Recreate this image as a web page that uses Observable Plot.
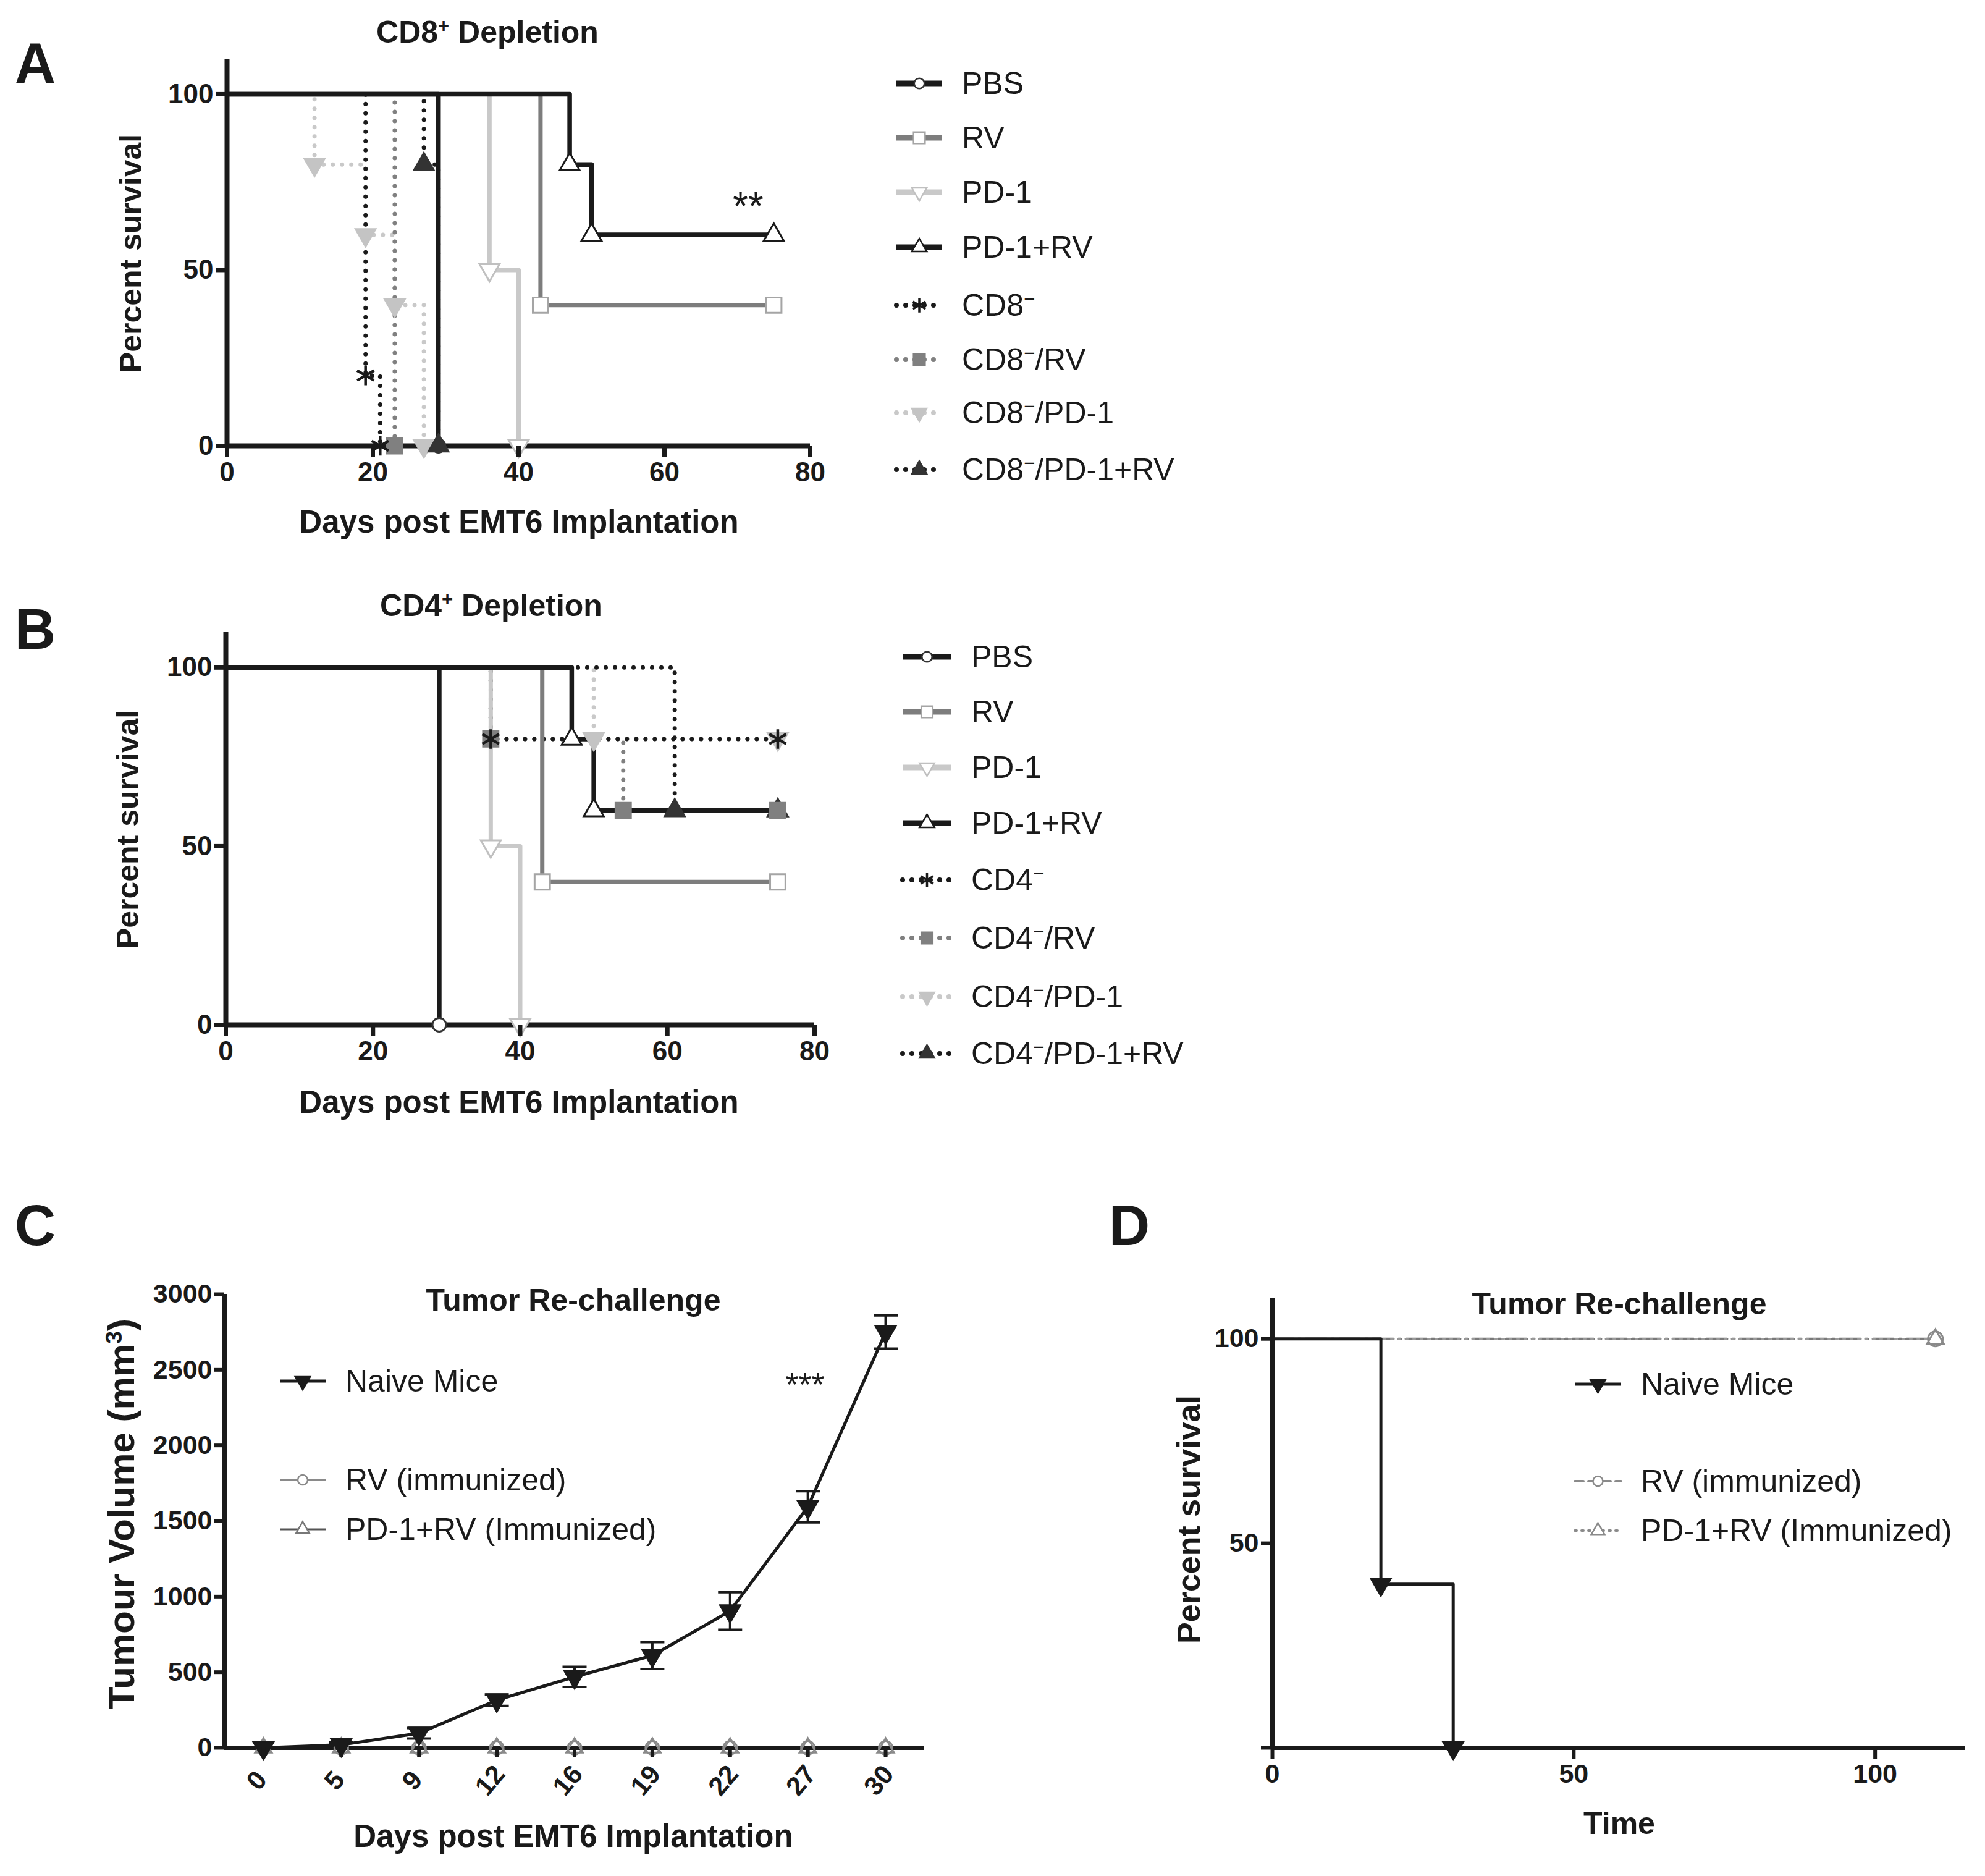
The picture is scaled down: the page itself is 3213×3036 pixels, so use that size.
<!DOCTYPE html>
<html><head><meta charset="utf-8">
<script src="https://cdn.jsdelivr.net/npm/d3@7"></script>
<script src="https://cdn.jsdelivr.net/npm/@observablehq/plot@0.6"></script>
<style>
body{margin:0;background:#fff;}
#page{position:relative;width:3213px;height:3036px;background:#fff;font-family:'Liberation Sans',Arial,sans-serif;color:#1a1a1a;overflow:hidden}
.abs{position:absolute;white-space:nowrap;transform:translate(-50%,-50%);line-height:1}
.leg{position:absolute;display:flex;align-items:center;transform:translateY(-50%);font-size:50px;white-space:nowrap;line-height:1}
.plot{position:absolute}
sup{font-size:62%;vertical-align:0.55em;line-height:0}
</style></head><body><div id="page"></div>
<script>
// ---------- DATA ----------
// Panel A : CD8+ depletion (Kaplan-Meier steps)
const groupsA = ["PBS","RV","PD-1","PD-1+RV","CD8-","CD8-/RV","CD8-/PD-1","CD8-/PD-1+RV"];
const daysA = [[0,29],[0,43,75],[0,36,40],[0,47,50,75],[0,19,21],[0,23],[0,12,19,23,27],[0,27,29]];
const survA = [[100,0],[100,40,40],[100,50,0],[100,80,60,60],[100,20,0],[100,0],[100,80,60,40,0],[100,80,0]];
// Panel B : CD4+ depletion
const groupsB = ["PBS","RV","PD-1","PD-1+RV","CD4-","CD4-/RV","CD4-/PD-1","CD4-/PD-1+RV"];
const daysB = [[0,29],[0,43,75],[0,36,40],[0,47,50,75],[0,36,75],[0,36,54,75],[0,50,75],[0,61,75]];
const survB = [[100,0],[100,40,40],[100,50,0],[100,80,60,60],[100,80,80],[100,80,60,60],[100,80,80],[100,60,60]];
// Panel C : tumour re-challenge volume
const daysC = ["0","5","9","12","16","19","22","27","30"];
const naiveMean = [0,20,96,315,469,610,905,1594,2750];
const naiveErr = [0,15,35,38,66,89,124,103,110];
const rvImmun = [0,0,0,0,0,0,0,0,0];
const pdrvImmun = [0,0,0,0,0,0,0,0,0];
// Panel D : re-challenge survival
const timeNaive = [0,18,30];
const survNaive = [100,40,0];
const timeImmun = [0,110];
const survRvImmun = [100,100];
const survPdrvImmun = [100,100];

// tick values
const ticksKMx = [0,20,40,60,80];
const ticksKMy = [0,50,100];
const ticksCy = [0,500,1000,1500,2000,2500,3000];
const ticksDx = [0,50,100];
const ticksDy = [0,50,100];

// ---------- STYLES ----------
const BLK="#1a1a1a", DG="#7d7d7d", LG="#c9c9c9";
const FONT="'Liberation Sans',Arial,sans-serif";
const stylesKM = [
  {stroke:BLK, dash:false, symbol:"circle", fill:"white", ms:"#333", rotate:0, r:11, w:7.5},
  {stroke:DG, dash:false, symbol:"square", fill:"white", ms:"#a5a5a5", rotate:0, r:14, w:7},
  {stroke:LG, dash:false, symbol:"triangle", fill:"white", ms:"#c0c0c0", rotate:180, r:12, w:7},
  {stroke:BLK, dash:false, symbol:"triangle", fill:"white", ms:BLK, rotate:0, r:12, w:7.5},
  {stroke:BLK, dash:true, symbol:"asterisk", fill:"none", ms:BLK, rotate:0, r:15, w:7},
  {stroke:"#808080", dash:true, symbol:"square", fill:"#808080", ms:"#808080", rotate:0, r:14, w:7},
  {stroke:LG, dash:true, symbol:"triangle", fill:"#c4c4c4", ms:"#c4c4c4", rotate:180, r:12, w:7},
  {stroke:BLK, dash:true, symbol:"triangle", fill:"#333", ms:"#333", rotate:0, r:12, w:7}
];
const drawOrder = [6,5,7,4,2,1,3,0];
const markerOrder = [2,1,3,0,6,7,5,4];
const DOTS = "0 15";

const page = document.getElementById("page");
function place(el, left, top){ el.classList.add("plot"); el.style.left=left+"px"; el.style.top=top+"px"; page.appendChild(el); }
function txt(x,y,html,css,rot){
  const d=document.createElement("div"); d.className="abs"; d.innerHTML=html;
  d.style.left=x+"px"; d.style.top=y+"px"; d.style.cssText+=css;
  if(rot) d.style.transform=`translate(-50%,-50%) rotate(${rot}deg)`;
  page.appendChild(d); return d;
}
const symMap = {circle:d3.symbolCircle, square:d3.symbolSquare, triangle:d3.symbolTriangle, asterisk:d3.symbolAsterisk};
function swatch(w, st, lw, dasharray, r){
  const size = Math.PI*r*r;
  const path = d3.symbol(symMap[st.symbol], size)();
  const sw = st.symbol==="asterisk"?3.5:2.5;
  return `<svg width="${w}" height="44" style="flex:none;overflow:visible"><line x1="2" x2="${w-32}" y1="22" y2="22" stroke="${st.stroke}" stroke-width="${lw}" ${dasharray?`stroke-dasharray="${dasharray}" stroke-linecap="round"`:""}/>`+
    `<path d="${path}" transform="translate(${(w-30)/2},22) rotate(${st.rotate||0})" fill="${st.fill}" stroke="${st.ms}" stroke-width="${sw}"/></svg>`;
}
function legendRow(x, y, textX, st, label, lw, dash, r, fs){
  const d=document.createElement("div"); d.className="leg";
  d.style.left=x+"px"; d.style.top=y+"px"; if(fs) d.style.fontSize=fs+"px";
  d.innerHTML = swatch(textX-x, st, lw, dash, r) + `<span>${label}</span>`;
  page.appendChild(d);
}
const supLabel = s => s.replace(/CD([48])-/, "CD$1<sup>−</sup>");

function kmPlot(groups, days, surv, ml, mr, mt, mb, w, h){
  const rows = groups.flatMap((g,i)=>days[i].map((x,j)=>({i, j, x, y:surv[i][j]})));
  const marks = [];
  for (const i of drawOrder){
    const st = stylesKM[i];
    marks.push(Plot.line(rows.filter(r=>r.i===i), {x:"x", y:"y", curve:"step-after", stroke:st.stroke, strokeWidth:st.w,
      strokeDasharray: st.dash ? DOTS : null, strokeLinecap: st.dash ? "round" : "butt"}));
  }
  marks.push(Plot.ruleY([0], {stroke:BLK, strokeWidth:8}));
  marks.push(Plot.ruleX([0], {stroke:BLK, strokeWidth:8}));
  for (const i of markerOrder){
    const st = stylesKM[i];
    marks.push(Plot.dot(rows.filter(r=>r.i===i && r.j>0), {x:"x", y:"y", symbol:st.symbol, r:st.r, fill:st.fill, stroke:st.ms,
      strokeWidth: st.symbol==="asterisk"?4.5:3, rotate: st.rotate}));
  }
  marks.push(Plot.axisX({ticks:ticksKMx, tickSize:18, tickPadding:8, strokeWidth:7, label:null, fontSize:44, fontWeight:"bold"}));
  marks.push(Plot.axisY({ticks:ticksKMy, tickSize:18, tickPadding:4, strokeWidth:7, label:null, fontSize:44, fontWeight:"bold"}));
  return Plot.plot({width:w, height:h, marginLeft:ml, marginRight:mr, marginTop:mt, marginBottom:mb,
    x:{domain:[0,80]}, y:{domain:[0,110]},
    style:{fontFamily:FONT, color:BLK, background:"transparent", overflow:"visible"}, marks});
}

// ---------- PANEL A ----------
place(kmPlot(groupsA, daysA, survA, 367, 89, 95, 179, 1400, 900), 0, 0);
txt(57,102,"A","font-weight:bold;font-size:92px;");
txt(789,52,"CD8<sup>+</sup> Depletion","font-weight:bold;font-size:50px;");
txt(212,410,"Percent survival","font-weight:bold;font-size:50px;",-90);
txt(840,844,"Days post EMT6 Implantation","font-weight:bold;font-size:51px;");
txt(1211,334,"**","font-size:64px;");
const legYA = [135,223,311,400,494,582,668,760];
groupsA.forEach((g,i)=>{ const st=stylesKM[i];
  legendRow(1449, legYA[i], 1557, st, supLabel(g), st.dash?8:9, st.dash?DOTS:null, st.r*0.75); });

// ---------- PANEL B ----------
place(kmPlot(groupsB, daysB, survB, 365, 82, 92, 172, 1400, 900), 0, 930);
txt(57,1018,"B","font-weight:bold;font-size:92px;");
txt(795,980,"CD4<sup>+</sup> Depletion","font-weight:bold;font-size:50px;");
txt(207,1342,"Percent survival","font-weight:bold;font-size:50px;",-90);
txt(840,1783,"Days post EMT6 Implantation","font-weight:bold;font-size:51px;");
const legYB = [1063,1152,1242,1332,1424,1518,1613,1705];
groupsB.forEach((g,i)=>{ const st=stylesKM[i];
  legendRow(1459, legYB[i], 1572, st, supLabel(g), st.dash?8:9, st.dash?DOTS:null, st.r*0.75); });

// ---------- PANEL C ----------
const capSymbol = {draw(ctx, size){ const w=Math.sqrt(size); ctx.moveTo(-w,0); ctx.lineTo(w,0); }};
const rowsC = daysC.map((d,k)=>({k, d, m:naiveMean[k], e:naiveErr[k], rv:rvImmun[k], pd:pdrvImmun[k]}));
const plotC = Plot.plot({width:1600, height:1086, marginLeft:363, marginRight:104, marginTop:144, marginBottom:208,
  x:{domain:[-0.5, daysC.length-0.5]}, y:{domain:[0,3000]},
  style:{fontFamily:FONT, color:BLK, background:"transparent", overflow:"visible"},
  marks:[
    Plot.ruleY([0], {stroke:BLK, strokeWidth:7}),
    Plot.ruleX([-0.5], {stroke:BLK, strokeWidth:7}),
    Plot.ruleX(rowsC, {x:"k", y1:d=>d.m-d.e, y2:d=>d.m+d.e, stroke:BLK, strokeWidth:4}),
    Plot.dot(rowsC, {x:"k", y:d=>d.m+d.e, symbol:capSymbol, r:11, stroke:BLK, strokeWidth:4}),
    Plot.dot(rowsC, {x:"k", y:d=>d.m-d.e, symbol:capSymbol, r:11, stroke:BLK, strokeWidth:4}),
    Plot.line(rowsC, {x:"k", y:"m", stroke:BLK, strokeWidth:5}),
    Plot.dot(rowsC, {x:"k", y:"rv", symbol:"circle", r:11, fill:"none", stroke:"#8a8a8a", strokeWidth:3}),
    Plot.dot(rowsC, {x:"k", y:"pd", symbol:"triangle", r:10, fill:"none", stroke:"#8a8a8a", strokeWidth:3}),
    Plot.dot(rowsC, {x:"k", y:"m", symbol:"triangle", rotate:180, r:13, fill:BLK, stroke:BLK}),
    Plot.axisY({ticks:ticksCy, tickSize:16, tickPadding:4, strokeWidth:6, label:null, fontSize:43, fontWeight:"bold", tickFormat:d=>String(d)}),
    Plot.axisX({ticks:rowsC.map(d=>d.k), tickSize:16, strokeWidth:6, tickFormat:()=>"", label:null}),
    Plot.text(rowsC, {x:"k", frameAnchor:"bottom", dy:62, rotate:-50, text:"d", fontSize:43, fontWeight:"bold", fill:BLK})
  ]});
place(plotC, 0, 1950);
txt(57,1983,"C","font-weight:bold;font-size:92px;");
txt(928,2104,"Tumor Re-challenge","font-weight:bold;font-size:50px;");
txt(197,2450,"Tumour Volume (mm<sup>3</sup>)","font-weight:bold;font-size:60px;",-90);
txt(928,2971,"Days post EMT6 Implantation","font-weight:bold;font-size:51px;");
txt(1303,2240,"***","font-size:54px;");
legendRow(451, 2235, 559, {stroke:BLK, symbol:"triangle", rotate:180, fill:BLK, ms:BLK}, "Naive Mice", 5, null, 9);
legendRow(451, 2395, 559, {stroke:"#8a8a8a", symbol:"circle", rotate:0, fill:"white", ms:"#8a8a8a"}, "RV (immunized)", 4, null, 8);
legendRow(451, 2475, 559, {stroke:"#555", symbol:"triangle", rotate:0, fill:"white", ms:"#777"}, "PD-1+RV (Immunized)", 3, null, 8);

// ---------- PANEL D ----------
const rowsNaive = timeNaive.map((t,k)=>({t, s:survNaive[k], k}));
const rowsRv = timeImmun.map((t,k)=>({t, s:survRvImmun[k], k}));
const rowsPd = timeImmun.map((t,k)=>({t, s:survPdrvImmun[k], k}));
const plotD = Plot.plot({width:1463, height:1086, marginLeft:309, marginRight:32, marginTop:150, marginBottom:208,
  x:{domain:[0,115]}, y:{domain:[0,110]},
  style:{fontFamily:FONT, color:BLK, background:"transparent", overflow:"visible"},
  marks:[
    Plot.line(rowsRv, {x:"t", y:"s", curve:"step-after", stroke:"#7a7a7a", strokeWidth:4, strokeDasharray:"34 8 4 8"}),
    Plot.line(rowsPd, {x:"t", y:"s", curve:"step-after", stroke:"#9a9a9a", strokeWidth:3, strokeDasharray:"3 9"}),
    Plot.line(rowsNaive, {x:"t", y:"s", curve:"step-after", stroke:BLK, strokeWidth:5}),
    Plot.ruleY([0], {stroke:BLK, strokeWidth:7}),
    Plot.ruleX([0], {stroke:BLK, strokeWidth:7}),
    Plot.dot(rowsRv.filter(d=>d.k>0), {x:"t", y:"s", symbol:"circle", r:12, fill:"white", stroke:"#8a8a8a", strokeWidth:3}),
    Plot.dot(rowsPd.filter(d=>d.k>0), {x:"t", y:"s", symbol:"triangle", r:10, fill:"none", stroke:"#8a8a8a", strokeWidth:3}),
    Plot.dot(rowsNaive.filter(d=>d.k>0), {x:"t", y:"s", symbol:"triangle", rotate:180, r:13, fill:BLK, stroke:BLK}),
    Plot.axisX({ticks:ticksDx, tickSize:18, tickPadding:8, strokeWidth:6, label:null, fontSize:43, fontWeight:"bold"}),
    Plot.axisY({ticks:ticksDy, tickSize:18, tickPadding:4, strokeWidth:6, label:null, fontSize:43, fontWeight:"bold", tickFormat:d=>d===0?"":String(d)})
  ]});
place(plotD, 1750, 1950);
txt(1828,1983,"D","font-weight:bold;font-size:92px;");
txt(2621,2110,"Tumor Re-challenge","font-weight:bold;font-size:50px;");
txt(1924,2459,"Percent survival","font-weight:bold;font-size:52px;",-90);
txt(2621,2951,"Time","font-weight:bold;font-size:50px;");
legendRow(2547, 2240, 2656, {stroke:BLK, symbol:"triangle", rotate:180, fill:BLK, ms:BLK}, "Naive Mice", 5, null, 9);
legendRow(2547, 2397, 2656, {stroke:"#8a8a8a", symbol:"circle", rotate:0, fill:"white", ms:"#8a8a8a"}, "RV (immunized)", 4, "14 8", 8);
legendRow(2547, 2477, 2656, {stroke:"#8a8a8a", symbol:"triangle", rotate:0, fill:"white", ms:"#8a8a8a"}, "PD-1+RV (Immunized)", 4, "3 8", 8);
</script></body></html>
